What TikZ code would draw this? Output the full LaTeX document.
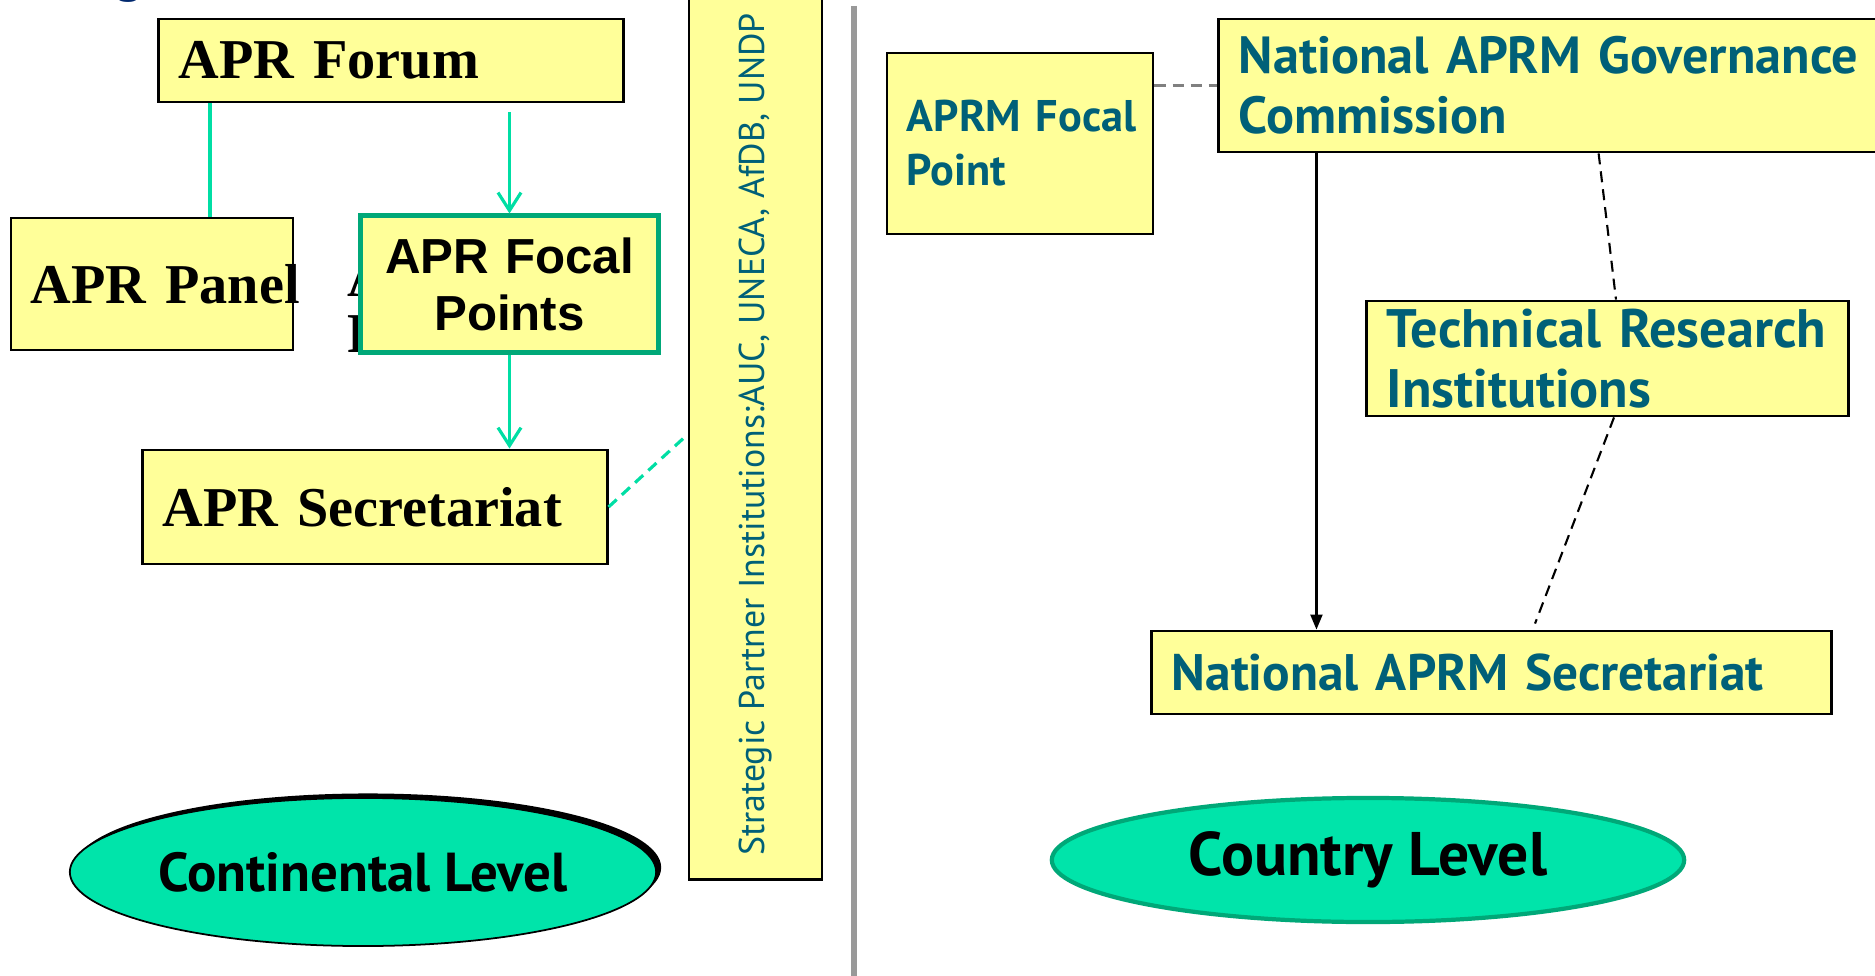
\documentclass[tikz,border=0pt]{standalone}
\usepackage{fontspec}
\setmainfont{Liberation Serif}
\newfontfamily\ptsans{PT Sans}
\newfontfamily\arialsans{Liberation Sans}
\usetikzlibrary{arrows.meta, positioning, shapes.geometric, shadows}
\definecolor{boxyellow}{RGB}{255,255,153}
\definecolor{mintfill}{RGB}{0,228,170}
\definecolor{mintline}{RGB}{0,222,164}
\definecolor{darkmint}{RGB}{0,168,120}
\definecolor{aprmteal}{RGB}{0,96,120}
\definecolor{titlenavy}{RGB}{0,40,110}

\begin{document}
\begin{tikzpicture}[
  x=0.01cm, y=-0.01cm,
  box/.style      = {draw, line width=0.8pt, fill=boxyellow, inner xsep=2mm, inner ysep=0pt,
                     align=left},
  serifbox/.style = {box, font=\fontsize{16}{18}\selectfont\bfseries},
  tealbox/.style  = {box, text=aprmteal, font=\ptsans\bfseries\fontsize{14.85}{17}\selectfont},
  level/.style    = {ellipse, inner sep=0pt, fill=mintfill,
                     font=\ptsans\bfseries\fontsize{15.6}{17}\selectfont},
  link/.style     = {draw=mintline, line width=0.9pt},
  linkarr/.style  = {link, -{Straight Barb[length=1.8mm, width=2.3mm, line width=0.9pt]}},
  dashline/.style = {dash pattern=on 1.1mm off 0.7mm},
]
\useasboundingbox (0,0) rectangle (1875,976);

% =============== continental level ===============
\node[font=\ptsans\fontsize{16}{16}\selectfont, text=titlenavy, anchor=base] (titlefrag) at (130,-9) {g};

\node[serifbox, text width=42.4mm, minimum height=8.3mm] (forum) at (391,60.5) {APR Forum};
\node[serifbox, text width=24.2mm, minimum height=13.2mm] (panel) at (152,284) {\mbox{APR Panel}};
% serif text left behind the focal box
\node[font=\fontsize{16}{15.9}\selectfont\bfseries, align=left, anchor=north west, inner sep=0pt]
  (oldfocal) at (347,257) {APR Focal\\Points};
\node[box, draw=darkmint, line width=1.4pt, align=center, text width=25.7mm, minimum height=13.6mm,
  font=\arialsans\bfseries\fontsize{14}{16.2}\selectfont] (focal) at (509.5,284) {APR Focal\\Points};
\node[serifbox, text width=42.4mm, minimum height=11.4mm] (sec) at (375,507) {APR Secretariat};

\node[box, rotate=90, align=center, minimum width=88.9mm, minimum height=13.3mm, text=aprmteal,
  font=\ptsans\fontsize{10.2}{12}\selectfont] (partner) at (755.5,434.5)
  {Strategic Partner Institutions:AUC, UNECA, AfDB, UNDP};

\node[level, draw=black, line width=0.5pt, minimum width=58.6mm, minimum height=14.8mm,
  drop shadow={shadow xshift=0.5mm, shadow yshift=0.45mm, opacity=1, fill=black}]
  (cont) at (363,872) {Continental Level};

\draw[link] ([xshift=5.8mm]panel.north) -- ([xshift=5.8mm]panel.north |- forum.south);
\draw[linkarr, shorten <=0.9mm] (focal.north |- forum.south) -- (focal.north);
\draw[linkarr] (focal.south) -- (focal.south |- sec.north);
\draw[link, dashline] (sec.east) -- (partner.north);

% divider
\draw[line width=1.7pt, draw=black!40] (854,6) -- (854,976);

% =============== country level ===============
\node[tealbox, text width=22.6mm, minimum height=18.1mm,
  font=\ptsans\bfseries\fontsize{12.6}{15.4}\selectfont] (afp) at (1020,143.5)
  {\mbox{APRM Focal}\\Point};
\node[tealbox, text width=63.1mm, minimum height=13.3mm] (ngc) at (1554.5,85.5)
  {National APRM Governance\\Commission};
\node[tealbox, text width=44.1mm, minimum height=11.5mm,
  font=\ptsans\bfseries\fontsize{15.4}{17}\selectfont] (tri) at (1607.5,358.5)
  {Technical Research\\Institutions};
\node[tealbox, text width=63.9mm, minimum height=8.3mm,
  font=\ptsans\bfseries\fontsize{14.6}{17}\selectfont] (nas) at (1491.5,672.5)
  {National APRM Secretariat};

\node[level, draw=darkmint, line width=1.2pt, minimum width=63.2mm, minimum height=12.4mm,
  font=\ptsans\bfseries\fontsize{17.5}{19}\selectfont] (country) at (1368,860) {Country Level};

\draw[dashline, draw=black!50, line width=0.6pt] (afp.east |- ngc.west) -- (ngc.west);
\draw[-{Triangle[length=1.5mm, width=1.2mm]}, line width=0.6pt]
  ([xshift=9.9mm]ngc.south west) -- ([xshift=9.9mm]ngc.south west |- nas.north);
\draw[dashline, line width=0.6pt] ([xshift=38.1mm]ngc.south west) -- ([xshift=0.85mm]tri.north);
\draw[dashline, line width=0.6pt] ([xshift=0.65mm]tri.south) -- ([xshift=4.35mm, yshift=0.6mm]nas.north);

\end{tikzpicture}
\end{document}
